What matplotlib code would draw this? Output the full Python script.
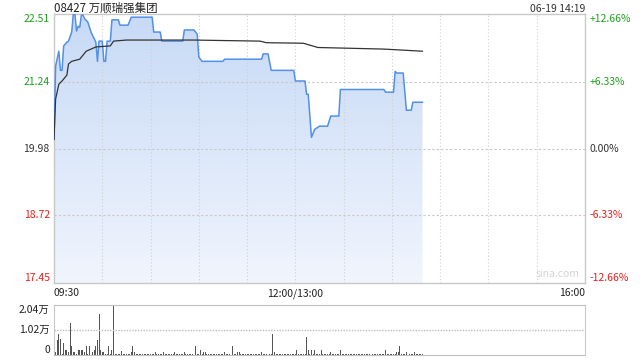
import numpy as np
import matplotlib
matplotlib.use('Agg')
import matplotlib.pyplot as plt
from matplotlib.colors import LinearSegmentedColormap
from matplotlib.patches import PathPatch
from matplotlib.transforms import blended_transform_factory

plt.rcParams['font.family'] = ['Noto Sans CJK SC', 'DejaVu Sans']

title = '08427 万顺瑞强集团'
stamp = '06-19 14:19'
price_ticks = [22.51, 21.24, 19.98, 18.72, 17.45]
pct_labels = ['+12.66%', '+6.33%', '0.00%', '-6.33%', '-12.66%']
tick_colors = ['#1ea01e', '#1ea01e', '#333333', '#e8201a', '#e8201a']
time_labels = ['09:30', '12:00/13:00', '16:00']
vol_labels = ['2.04万', '1.02万', '0']
vol_ticks = [20400, 10200, 0]

# minute price line
price_times = ['09:30', '09:31', '09:33', '09:34', '09:35', '09:36', '09:38', '09:39', '09:41', '09:42',
               '09:43', '09:44', '09:45', '09:46', '09:47', '09:48', '09:49', '09:51', '09:53', '09:56',
               '09:57', '09:58', '10:00', '10:01', '10:02', '10:03', '10:05', '10:06', '10:10', '10:11',
               '10:16', '10:18', '10:31', '10:32', '10:36', '10:37', '10:50', '10:51', '10:57', '10:59',
               '11:00', '11:02', '11:15', '11:16', '11:39', '11:40', '11:43', '11:45', '11:59', '13:00',
               '13:06', '13:07', '13:08', '13:10', '13:12', '13:15', '13:20', '13:22', '13:27', '13:28',
               '13:55', '13:56', '14:01', '14:02', '14:03', '14:07', '14:09', '14:12', '14:13', '14:19']
price_vals = [20.15, 21.53, 21.81, 21.45, 21.45, 21.91, 21.98, 22.00, 22.17, 22.51,
              22.51, 22.19, 22.28, 22.26, 22.49, 22.49, 22.42, 22.36, 22.17, 21.98,
              21.62, 22.00, 22.00, 21.62, 21.62, 22.00, 22.00, 22.40, 22.40, 22.30,
              22.30, 22.45, 22.45, 22.17, 22.17, 22.00, 22.00, 22.21, 22.21, 22.13,
              21.70, 21.62, 21.62, 21.66, 21.66, 21.76, 21.76, 21.45, 21.45, 21.25,
              21.25, 21.00, 21.00, 20.19, 20.34, 20.40, 20.40, 20.59, 20.59, 21.09,
              21.09, 21.04, 21.04, 21.43, 21.40, 21.40, 20.70, 20.70, 20.85, 20.85]

# average price line
avg_times = ['09:30', '09:31', '09:33', '09:35', '09:38', '09:39', '09:41', '09:46', '09:50', '09:56',
             '10:05', '10:07', '10:15', '10:57', '11:17', '11:38', '11:42', '13:05', '13:14', '13:55',
             '14:19']
avg_vals = [20.15, 20.91, 21.19, 21.25, 21.36, 21.57, 21.62, 21.66, 21.81, 21.89,
            21.91, 22.00, 22.02, 22.02, 22.01, 22.00, 21.97, 21.96, 21.88, 21.85,
            21.81]

# volume per minute from 09:30, in hundreds of shares
vol_hundreds = [
    0, 11, 60, 85, 64, 3, 49, 22, 22, 11,
    132, 35, 11, 11, 3, 22, 22, 22, 22, 11,
    35, 3, 35, 11, 11, 22, 35, 60, 168, 22,
    11, 11, 3, 4, 35, 4, 22, 204, 4, 3,
    4, 3, 18, 4, 3, 4, 3, 4, 11, 35,
    11, 3, 3, 3, 3, 3, 3, 3, 3, 3,
    3, 3, 3, 11, 3, 3, 3, 3, 11, 3,
    3, 3, 3, 3, 3, 11, 3, 3, 3, 3,
    3, 11, 3, 3, 3, 3, 3, 3, 35, 3,
    3, 22, 3, 11, 11, 3, 3, 3, 3, 3,
    3, 3, 3, 3, 3, 3, 11, 3, 3, 3,
    3, 35, 3, 3, 11, 11, 3, 3, 3, 3,
    3, 3, 3, 3, 3, 3, 3, 3, 3, 11,
    3, 3, 3, 3, 3, 3, 85, 11, 3, 3,
    3, 3, 3, 3, 3, 3, 3, 3, 3, 3,
    3, 22, 3, 3, 4, 3, 3, 74, 22, 3,
    22, 3, 22, 3, 3, 3, 22, 3, 3, 3,
    3, 3, 11, 3, 3, 3, 3, 3, 22, 3,
    3, 3, 3, 3, 3, 3, 3, 3, 3, 3,
    3, 3, 3, 3, 3, 3, 3, 3, 3, 3,
    3, 3, 3, 3, 3, 3, 22, 3, 3, 3,
    3, 3, 3, 11, 11, 35, 3, 3, 3, 11,
    3, 3, 3, 3, 11, 3, 3, 4, 3, 3,
]


def minute_index(s):
    h, m = map(int, s.split(':'))
    mins = h * 60 + m
    if mins <= 12 * 60:
        return mins - (9 * 60 + 30)
    return mins - 13 * 60 + 150


px = np.array([minute_index(t) for t in price_times])
py = np.array(price_vals)
ax_ = np.array([minute_index(t) for t in avg_times])
ay = np.array(avg_vals)
vol = np.array(vol_hundreds) * 100
vx = np.arange(len(vol))

ymin, ymax = price_ticks[-1], price_ticks[0]
border = '#c8c8c8'

fig = plt.figure(figsize=(6.4, 3.6), dpi=100)
ax = fig.add_axes([54 / 640, 1 - 283 / 360, 531 / 640, 269 / 360])
axv = fig.add_axes([54 / 640, 1 - 355 / 360, 531 / 640, 50 / 360])

# gradient area under the price line
poly = ax.fill_between(px, py, ymin, color='none', linewidth=0)
cmap = LinearSegmentedColormap.from_list('fill', ['#f1f5fd', '#c7daf6'])
grad = np.linspace(0, 1, 256).reshape(-1, 1)
img = ax.imshow(grad, extent=[0, 330, ymin, ymax], origin='lower', cmap=cmap,
                aspect='auto', zorder=1)
patch = PathPatch(poly.get_paths()[0], transform=ax.transData, facecolor='none', edgecolor='none')
ax.add_patch(patch)
img.set_clip_path(patch)

ax.plot(px, py, color='#5290ea', lw=1.1, zorder=3)
ax.plot(ax_, ay, color='#333333', lw=0.9, zorder=4)

ax.set_xlim(0, 330)
ax.set_ylim(ymin, ymax)
ax.set_xticks([])
ax.set_yticks([])
for s in ax.spines.values():
    s.set_color(border)
    s.set_linewidth(1)
for k in range(1, 11):
    ax.axvline(k * 30, color='#d0d0d0', lw=0.8, ls=(0, (1, 2)), zorder=2)
for v in price_ticks[1:-1]:
    ax.axhline(v, color='#c8c8c8', lw=0.8, ls=(0, (2, 2)), zorder=2)

tr = blended_transform_factory(ax.transAxes, ax.transData)
for i, (v, lab, c) in enumerate(zip(price_ticks, pct_labels, tick_colors)):
    va = 'top' if i == 0 else ('bottom' if i == len(price_ticks) - 1 else 'center')
    ax.text(-0.008, v, f'{v:.2f}', transform=tr, ha='right', va=va, color=c, fontsize=7.5)
    ax.text(1.009, v, lab, transform=tr, ha='left', va=va, color=c, fontsize=7.5)

ax.text(0.0, 1.009, title, transform=ax.transAxes, ha='left', va='baseline', fontsize=8.3, color='#222222')
ax.text(1.0, 1.009, stamp, transform=ax.transAxes, ha='right', va='baseline', fontsize=7.5, color='#333333')
ax.text(0.99, 0.015, 'sina.com', transform=ax.transAxes, ha='right', va='bottom', fontsize=7.5,
        color='#d4d4d4')

ax.text(0, -0.02, time_labels[0], transform=ax.transAxes, ha='left', va='top', fontsize=7.5, color='#222222')
ax.text(150 / 330, -0.02, time_labels[1], transform=ax.transAxes, ha='center', va='top', fontsize=7.5,
        color='#222222')
ax.text(1, -0.02, time_labels[2], transform=ax.transAxes, ha='right', va='top', fontsize=7.5, color='#222222')

# volume panel
axv.bar(vx, vol, width=0.6, color='#555555', linewidth=0)
axv.set_xlim(0, 330)
axv.set_ylim(0, 20400)
axv.set_xticks([])
axv.set_yticks([])
for side in ['left', 'right']:
    axv.spines[side].set_color(border)
axv.spines['top'].set_color('#c0c0c0')
axv.spines['top'].set_linestyle((0, (1, 1)))
axv.spines['bottom'].set_color('#c0c0c0')
axv.spines['bottom'].set_linestyle((0, (1, 1)))
axv.axhline(10200, color='#c0c0c0', lw=1, ls=(0, (1, 1)))
trv = blended_transform_factory(axv.transAxes, axv.transData)
for v, lab in zip(vol_ticks, vol_labels):
    va = 'top' if v == vol_ticks[0] else ('bottom' if v == 0 else 'center')
    axv.text(-0.008, v, lab, transform=trv, ha='right', va=va, fontsize=7.5, color='#222222')

fig.savefig('out.png', dpi=100)
